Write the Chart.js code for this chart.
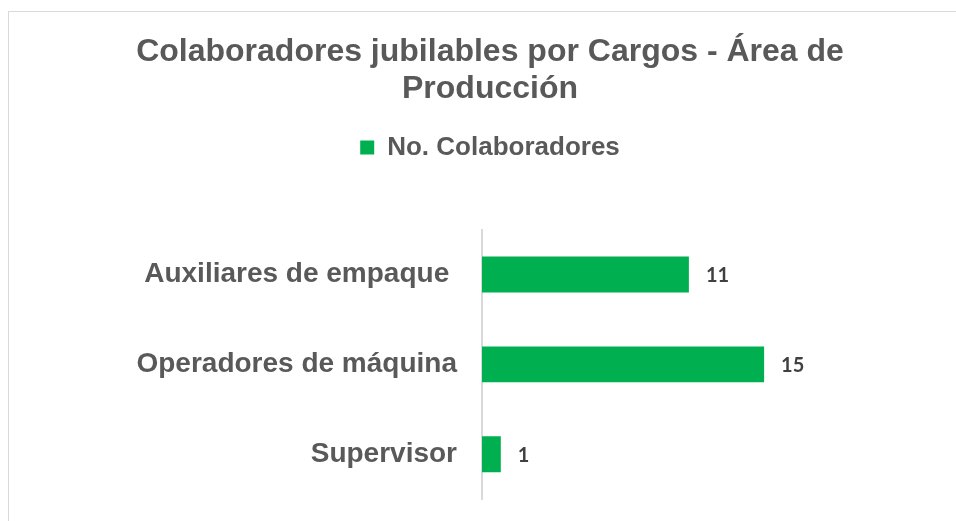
<!DOCTYPE html>
<html lang="es">
<head>
    <meta charset="UTF-8">
    <title>Colaboradores jubilables por Cargos</title>
    <script src="https://cdn.jsdelivr.net/npm/chart.js@4.4.1/dist/chart.umd.js"></script>
    <style>
        html, body { margin: 0; padding: 0; background: #fff; overflow: hidden; }
        #frame {
            position: absolute; left: 8px; top: 11px;
            width: 962px; height: 530px;
            border-left: 1px solid #d9d9d9; border-top: 1px solid #d9d9d9;
        }
        #chart { display: block; }
    </style>
</head>
<body>
    <div id="frame">
        <canvas id="chart" width="962" height="521"></canvas>
    </div>
    <script>
        // data
        const cargos = ['Auxiliares de empaque ', 'Operadores de máquina', 'Supervisor'];
        const colaboradores = [11, 15, 1];
        const serieNombre = 'No. Colaboradores';
        const tituloLineas = ['Colaboradores jubilables por Cargos - Área de', 'Producción'];

        const verde = '#00B050';
        const gris = '#595959';

        // draws the number next to each bar
        const etiquetas = {
            id: 'etiquetas',
            afterDatasetsDraw(chart) {
                const ctx = chart.ctx;
                const meta = chart.getDatasetMeta(0);
                ctx.save();
                ctx.font = 'bold 20px Lato, "Open Sans", sans-serif';
                ctx.fillStyle = '#404040';
                ctx.textAlign = 'left';
                ctx.textBaseline = 'middle';
                meta.data.forEach((bar, i) => {
                    ctx.fillText(String(colaboradores[i]), bar.x + 17, bar.y + 1);
                });
                ctx.restore();
            }
        };

        // extra room under the legend
        const espacioLeyenda = {
            id: 'espacioLeyenda',
            beforeInit(chart) {
                const fit = chart.legend.fit;
                chart.legend.fit = function () {
                    fit.bind(chart.legend)();
                    this.height += 59;
                };
            }
        };

        new Chart(document.getElementById('chart'), {
            type: 'bar',
            data: {
                labels: cargos,
                datasets: [{
                    label: serieNombre,
                    data: colaboradores,
                    backgroundColor: verde,
                    borderWidth: 0,
                    categoryPercentage: 1,
                    barPercentage: 0.4
                }]
            },
            options: {
                indexAxis: 'y',
                responsive: false,
                animation: false,
                layout: { padding: 0 },
                plugins: {
                    tooltip: { enabled: false },
                    title: {
                        display: true,
                        text: tituloLineas,
                        color: gris,
                        font: { family: 'Arial, "Liberation Sans", sans-serif', size: 32, weight: 'bold', lineHeight: 1.15 },
                        padding: { top: 22, bottom: 17 }
                    },
                    legend: {
                        display: true,
                        position: 'top',
                        labels: {
                            color: gris,
                            boxWidth: 14,
                            boxHeight: 14,
                            padding: 10,
                            font: { family: 'Arial, "Liberation Sans", sans-serif', size: 26, weight: 'bold' }
                        }
                    }
                },
                scales: {
                    x: {
                        display: false,
                        min: 0,
                        max: 26
                    },
                    y: {
                        afterFit(scale) { scale.width = 473; },
                        grid: { display: false },
                        border: { display: true, color: '#d9d9d9', width: 2 },
                        ticks: {
                            color: gris,
                            padding: 17,
                            font: { family: 'Arial, "Liberation Sans", sans-serif', size: 28, weight: 'bold' }
                        }
                    }
                }
            },
            plugins: [etiquetas, espacioLeyenda]
        });
    </script>
</body>
</html>
